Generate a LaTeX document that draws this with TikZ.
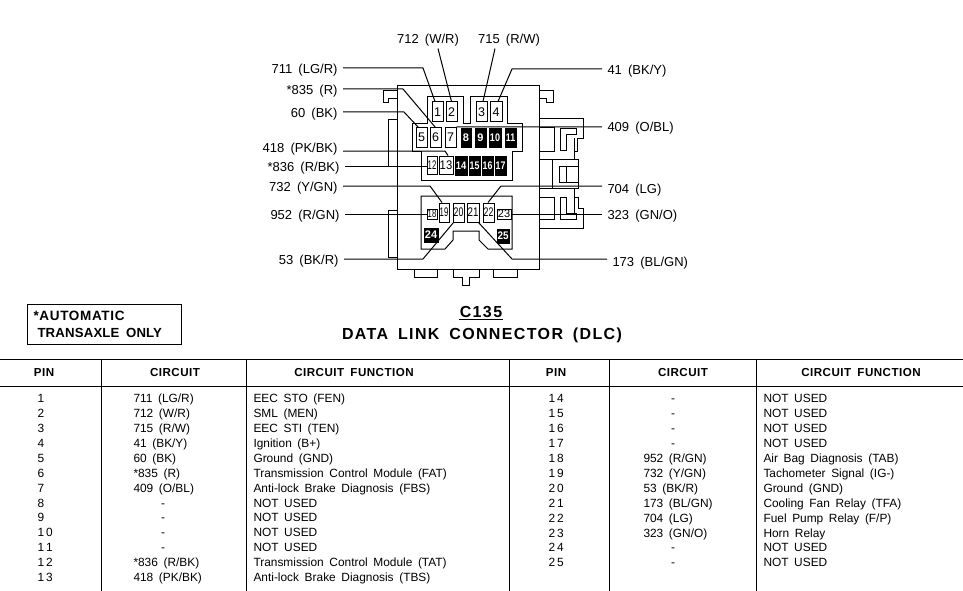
\documentclass[tikz,border=0pt]{standalone}
\usepackage{graphicx}
\usepackage{fontspec}
\setmainfont[WordSpace=1.7]{Liberation Sans}
\newcommand{\fsz}[1]{\fontsize{#1}{#1}\selectfont}
\newcommand{\lsp}[1]{\addfontfeature{LetterSpace=#1}}
\tikzset{
  x=1pt,y=-1pt,
  every path/.style={line width=1pt},
  wirelabelL/.style={anchor=east,yshift=-1pt,inner xsep=5pt,inner ysep=1pt,font=\fsz{13}},
  wirelabelR/.style={anchor=west,yshift=-1pt,inner xsep=5pt,inner ysep=1pt,font=\fsz{13}},
  wirelabelT/.style={anchor=center,yshift=-1pt,inner sep=1pt,font=\fsz{13}},
  pinbox/.style={draw,fill=white,inner sep=0pt,font=\fsz{12.5}},
  pinblack/.style={draw,fill=black,text=white,inner sep=0pt,font=\bfseries\fsz{11}},
  cell/.style={anchor=base west,inner sep=0pt,font=\fsz{11.9}},
  cellc/.style={anchor=base,inner sep=0pt,font=\fsz{11.9}},
  headcell/.style={anchor=center,inner sep=0pt,font=\bfseries\fsz{11.6}\lsp{4}},
  wire/.style={draw,line width=1pt},
  titletext/.style={anchor=center,inner sep=0pt,font=\bfseries\fsz{16}\lsp{8.5}},
  notetext/.style={anchor=west,inner sep=0pt,font=\bfseries\fsz{13.5}\lsp{5}},
  notetexttwo/.style={anchor=west,inner sep=0pt,font=\bfseries\fsz{13.2}\lsp{1.3}},
}
\newcount\rowno
\newcommand{\trow}[7]{%
  \global\advance\rowno by 1
  \node[cell] (pin\the\rowno) at (#1,#4+4.5) {#5};
  \node[cell] (cir\the\rowno) at (#2,#4+4.5) {#6};
  \node[cell] (fun\the\rowno) at (#3,#4+4.5) {#7};}
\newcommand{\drow}[6]{%
  \global\advance\rowno by 1
  \node[cell] (pin\the\rowno) at (#1,#4+4.5) {#5};
  \node[cellc] (cir\the\rowno) at (#2+30,#4+4.5) {-};
  \node[cell] (fun\the\rowno) at (#3,#4+4.5) {#6};}
\begin{document}
\begin{tikzpicture}
\useasboundingbox (0,0) rectangle (963,591);
% connector body
\draw (397,86) rectangle (539,269);
\draw (397,91) -- (383,91) -- (383,103) -- (388,103) -- (388,99) -- (397,99);
\draw (539,91) -- (553,91) -- (553,103) -- (546,103) -- (546,99) -- (539,99);
\draw (397,120) -- (388,120) -- (388,166);
\draw (397,210) -- (388,210) -- (388,257) -- (397,257);
% upper cavity
\draw (427,97) -- (463,97) -- (463,124) -- (470,124) -- (470,97) -- (507,97) -- (507,124) -- (522,124) -- (522,151) -- (512,151) -- (512,180) -- (421,180) -- (421,151) -- (412,151) -- (412,124) -- (427,124) -- cycle;
% lower cavity
\draw (421,196) -- (512,196) -- (512,249) -- (488,249) -- (479,240) -- (479,231) -- (453,231) -- (453,240) -- (445,249) -- (421,249) -- cycle;
% right side details
\draw (539,119) -- (583,119) -- (583,138) -- (577,138) -- (577,151) -- (574,151) -- (574,138);
\draw (539,128) -- (554,128) -- (554,151) -- (539,151);
\draw (560,129) -- (576,129) -- (576,134) -- (566,134) -- (566,150) -- (560,150) -- cycle;
\draw (574,138) -- (574,159);
\draw (539,159) -- (578,159) -- (578,188) -- (539,188);
\draw (552,159) -- (552,188);
\draw (578,166) -- (559,166) -- (559,182) -- (578,182);
\draw (566,166) -- (566,182);
\draw (574,188) -- (574,215);
\draw (574,197) -- (578,197) -- (578,208) -- (583,208) -- (583,228) -- (539,228);
\draw (539,197) -- (554,197) -- (554,219) -- (539,219);
\draw (560,197) -- (566,197) -- (566,213) -- (576,213) -- (576,219) -- (560,219) -- cycle;
% feet
\draw (414,269) -- (414,277) -- (437,277) -- (437,269);
\draw (453,269) -- (453,277) -- (462,277) -- (462,285) -- (469,285) -- (469,277) -- (479,277) -- (479,269);
\draw (493,269) -- (493,277) -- (517,277) -- (517,269);
% pins
\foreach \n/\a/\b/\c/\d/\s in {1/432/102/443/122/1,2/446/102/457/122/1,3/476/102/487/122/1,4/490/102/502/122/1,
  5/416/128/427/147/1,6/430/128/441/147/1,7/445/128/456/147/1,
  12/427/156/437/174/.62,13/439/156/453/174/.9,
  19/439/203/449/222/.62,20/453/203/464/222/.7,21/467/203/479/222/.78,22/483/203/494/222/.7}{
  \pgfmathsetmacro\pw{\c-\a}\pgfmathsetmacro\ph{\d-\b}
  \node[pinbox,minimum width=\pw pt,minimum height=\ph pt] (p\n) at ({(\a+\c)/2},{(\b+\d)/2}) {\scalebox{\s}[1]{\n}};
}
\foreach \n/\a/\b/\c/\d/\s in {8/461/129/471/147/1,9/475/129/486/147/1,10/489/129/501/147/.82,11/505/129/516/147/.8,
  14/455/156/467/175/.85,15/469/156/480/175/.8,16/482/156/493/175/.8,17/495/156/506/175/.8,
  24/424/228/438/242/1,25/497/229/509/243/.9}{
  \pgfmathsetmacro\pw{\c-\a}\pgfmathsetmacro\ph{\d-\b}
  \node[pinblack,minimum width=\pw pt,minimum height=\ph pt] (p\n) at ({(\a+\c)/2},{(\b+\d)/2}) {\scalebox{\s}[1]{\n}};
}
\node[pinbox,font=\fsz{11},minimum width=10pt,minimum height=10pt] (p18) at (432,214) {\scalebox{.7}[1]{18}};
\node[pinbox,font=\fsz{11},minimum width=14pt,minimum height=10pt] (p23) at (504,214) {23};
% wire labels
\node[wirelabelT] (l712) at (428,39) {712  (W/R)};
\node[wirelabelT] (l715) at (509,39) {715  (R/W)};
\node[wirelabelL] (l711) at (343,69) {711  (LG/R)};
\node[wirelabelL] (l835) at (343,90) {*835  (R)};
\node[wirelabelL] (l60) at (343,113) {60  (BK)};
\node[wirelabelL] (l418) at (343,148) {418  (PK/BK)};
\node[wirelabelL] (l836) at (345,167) {*836  (R/BK)};
\node[wirelabelL] (l732) at (343,187) {732  (Y/GN)};
\node[wirelabelL] (l952) at (345,215) {952  (R/GN)};
\node[wirelabelL] (l53) at (344,260) {53  (BK/R)};
\node[wirelabelR] (l41) at (602,70) {41  (BK/Y)};
\node[wirelabelR] (l409) at (602,127) {409  (O/BL)};
\node[wirelabelR] (l704) at (602,189) {704  (LG)};
\node[wirelabelR] (l323) at (602,215) {323  (GN/O)};
\node[wirelabelR] (l173) at (607,262) {173  (BL/GN)};
% bends
\coordinate (b711) at (423,68);
\coordinate (b835) at (403,89);
\coordinate (b60) at (404,112);
\coordinate (b418) at (445,151);
\coordinate (b836) at (427,166);
\coordinate (b732) at (430,186);
\coordinate (b952) at (427,214);
\coordinate (b53) at (423,259);
\coordinate (b41) at (512,69);
\coordinate (b409) at (457,127);
\coordinate (b704) at (501,186);
\coordinate (b323) at (511,214);
\coordinate (b173) at (512,259);
% wires
\draw[wire] (l711.east |- b711) -- (b711) -- ([xshift=-2.5pt]p1.north);
\draw[wire] ([xshift=10pt,yshift=-1pt]l712.south) -- (p2.north);
\draw[wire] ([xshift=-14pt,yshift=-1pt]l715.south) -- ([xshift=1.5pt]p3.north);
\draw[wire] (l41.west |- b41) -- (b41) -- ([xshift=2pt]p4.north);
\draw[wire] (l835.east |- b835) -- (b835) -- (p6.north);
\draw[wire] (l60.east |- b60) -- (b60) -- ([xshift=-3pt]p5.north);
\draw[wire] (l418.east |- b418) -- (b418) -- ([xshift=2pt]p13.north);
\draw[wire] (l836.east |- b836) -- (p12.west |- b836);
\draw[wire] (l732.east |- b732) -- (b732) -- ([xshift=-2pt]p19.north);
\draw[wire] (l952.east |- b952) -- (p18.west |- b952);
\draw[wire] (l53.east |- b53) -- (b53) -- ([xshift=-5pt]p20.south);
\draw[wire] (l409.west |- b409) -- (b409) -- (p7.north east);
\draw[wire] (l704.west |- b704) -- (b704) -- ([xshift=-0.5pt]p22.north);
\draw[wire] (l323.west |- b323) -- (p23.east |- b323);
\draw[wire] (l173.west |- b173) -- (b173) -- ([xshift=5.5pt]p21.south);
% note and titles
\node[draw,anchor=north west,minimum width=154pt,minimum height=40pt,inner sep=0pt] (notebox) at (27,304) {};
\node[notetext] (note1) at (33,316) {*AUTOMATIC};
\node[notetexttwo] (note2) at (37,333) {TRANSAXLE  ONLY};
\node[titletext] (c135) at (481,312) {C135};
\draw ([yshift=-1pt]c135.south west) -- ([yshift=-1pt]c135.south east);
\node[titletext] (dlc) at (482,335) {DATA LINK CONNECTOR (DLC)};
% table
\draw (0,359) -- (963,359);
\draw (0,386) -- (963,386);
\foreach \x in {101,246,509,609,756} \draw (\x,359) -- (\x,591);
\node[headcell] (hp1) at (44,373) {PIN};
\node[headcell] (hc1) at (175,373) {CIRCUIT};
\node[headcell] (hf1) at (354,373) {CIRCUIT FUNCTION};
\node[headcell] (hp2) at (556,373) {PIN};
\node[headcell] (hc2) at (683,373) {CIRCUIT};
\node[headcell] (hf2) at (861,373) {CIRCUIT FUNCTION};
\trow{37}{133}{253}{398}{1}{711  (LG/R)}{EEC STO (FEN)}
\trow{37}{133}{253}{413}{2}{712  (W/R)}{SML (MEN)}
\trow{37}{133}{253}{428}{3}{715  (R/W)}{EEC STI (TEN)}
\trow{37}{133}{253}{443}{4}{41  (BK/Y)}{Ignition (B+)}
\trow{37}{133}{253}{458}{5}{60  (BK)}{Ground (GND)}
\trow{37}{133}{253}{473}{6}{*835  (R)}{Transmission Control Module (FAT)}
\trow{37}{133}{253}{488}{7}{409  (O/BL)}{Anti-lock Brake Diagnosis (FBS)}
\drow{37}{133}{253}{503}{8}{NOT USED}
\drow{37}{133}{253}{517}{9}{NOT USED}
\drow{37}{133}{253}{532}{1\,0}{NOT USED}
\drow{37}{133}{253}{547}{1\,1}{NOT USED}
\trow{37}{133}{253}{562}{1\,2}{*836  (R/BK)}{Transmission Control Module (TAT)}
\trow{37}{133}{253}{577}{1\,3}{418  (PK/BK)}{Anti-lock Brake Diagnosis (TBS)}
\drow{548}{643}{763}{398}{1\,4}{NOT USED}
\drow{548}{643}{763}{413}{1\,5}{NOT USED}
\drow{548}{643}{763}{428}{1\,6}{NOT USED}
\drow{548}{643}{763}{443}{1\,7}{NOT USED}
\trow{548}{643}{763}{458}{1\,8}{952  (R/GN)}{Air Bag Diagnosis (TAB)}
\trow{548}{643}{763}{473}{1\,9}{732  (Y/GN)}{Tachometer Signal (IG-)}
\trow{548}{643}{763}{488}{2\,0}{53  (BK/R)}{Ground (GND)}
\trow{548}{643}{763}{503}{2\,1}{173  (BL/GN)}{Cooling Fan Relay (TFA)}
\trow{548}{643}{763}{518}{2\,2}{704  (LG)}{Fuel Pump Relay (F/P)}
\trow{548}{643}{763}{533}{2\,3}{323  (GN/O)}{Horn Relay}
\drow{548}{643}{763}{547}{2\,4}{NOT USED}
\drow{548}{643}{763}{562}{2\,5}{NOT USED}
\end{tikzpicture}
\end{document}
